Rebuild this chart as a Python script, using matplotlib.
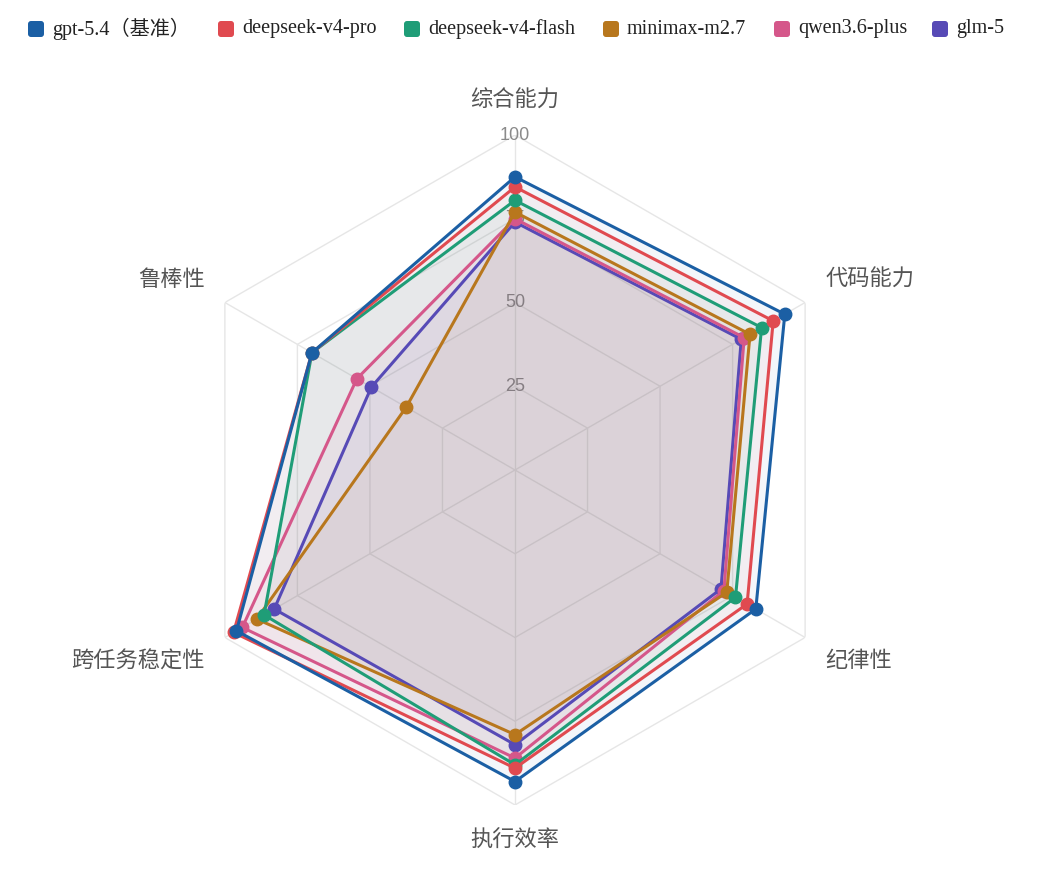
import numpy as np
import matplotlib
matplotlib.use('Agg')
import matplotlib.pyplot as plt
from matplotlib.patches import FancyBboxPatch

# Daten
categories = ['综合能力', '代码能力', '纪律性', '执行效率', '跨任务稳定性', '鲁棒性']
models = ['gpt-5.4（基准）', 'deepseek-v4-pro', 'deepseek-v4-flash', 'minimax-m2.7', 'qwen3.6-plus', 'glm-5']
gpt_vals = [87.5, 93, 83, 93, 96, 70]
ds_pro_vals = [84.5, 89, 80, 89, 97, 70]
ds_flash_vals = [80.5, 85, 76, 88, 86.5, 70]
minimax_vals = [77, 81, 73, 79, 89, 37.5]
qwen_vals = [75, 79, 72, 86, 94, 54.5]
glm_vals = [74, 78, 71, 82, 83, 49.5]
tick_vals = [25, 50, 75, 100]

series = [gpt_vals, ds_pro_vals, ds_flash_vals, minimax_vals, qwen_vals, glm_vals]
colors = ['#1b5fa4', '#e04a50', '#1f9d77', '#b8771d', '#d5578a', '#574ab6']

cjk = ['Noto Sans CJK SC', 'DejaVu Sans']

W, H = 1047, 877
fig = plt.figure(figsize=(W / 100, H / 100), dpi=100)

# Radar: Mitte bei (515, 470) px, Radius 335 px
cx, cy, R = 515, 470, 335
ax = fig.add_axes([(cx - R) / W, (H - cy - R) / H, 2 * R / W, 2 * R / H], projection='polar')
ax.set_theta_offset(np.pi / 2)
ax.set_theta_direction(-1)
ax.set_ylim(0, 100)
ax.spines['polar'].set_visible(False)
ax.grid(False)
ax.set_xticks([])
ax.set_yticks([])
ax.patch.set_alpha(0)

n = len(categories)
angles = np.linspace(0, 2 * np.pi, n, endpoint=False)
closed = np.append(angles, angles[0])

# Gitter (Sechsecke + Speichen)
for t in tick_vals:
    ax.plot(closed, [t] * (n + 1), color='#e6e6e6', lw=1, zorder=1)
for a in angles:
    ax.plot([a, a], [0, 100], color='#e6e6e6', lw=1, zorder=1)

# Tick-Beschriftungen
for t in tick_vals:
    ax.text(0, t, str(t), ha='center', va='center', fontsize=13,
            family='Liberation Sans', color='#8a8a8a', zorder=2)

# Datenreihen (erste Reihe oben)
for i, (vals, c) in enumerate(zip(series, colors)):
    v = np.append(vals, vals[0])
    z = 20 - i
    ax.fill(closed, v, color=c, alpha=0.05, lw=0, zorder=3)
    ax.plot(closed, v, color=c, lw=2.2, zorder=z)
    ax.plot(angles, vals, 'o', color=c, ms=9, zorder=z)

# Achsenbeschriftungen
label_pos = [
    (110.5, 'center', 'center'),
    (107, 'left', 'bottom'),
    (107, 'left', 'top'),
    (110.5, 'center', 'center'),
    (107, 'right', 'top'),
    (107, 'right', 'bottom'),
]
for a, lab, (r, ha, va) in zip(angles, categories, label_pos):
    ax.text(a, r, lab, ha=ha, va=va, fontsize=16, family=cjk, color='#555555')

# Legende oben
lx = fig.add_axes([0, 0, 1, 1])
lx.set_xlim(0, W)
lx.set_ylim(H, 0)
lx.axis('off')
box_x = [28, 218, 404, 603, 774, 932]
for x0, name, c in zip(box_x, models, colors):
    lx.add_patch(FancyBboxPatch((x0, 21), 16, 16, boxstyle='round,pad=0,rounding_size=3',
                                fc=c, ec='none'))
    lx.text(x0 + 24, 29, name, ha='left', va='center', fontsize=14.5,
            family=['Liberation Serif', 'Noto Sans CJK SC'], color='#222222')

fig.savefig('out.png', dpi=100)
